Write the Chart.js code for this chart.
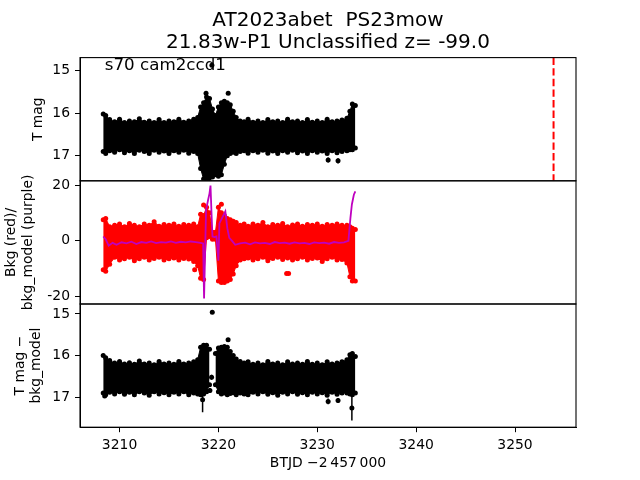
<!DOCTYPE html>
<html>
<head>
<meta charset="utf-8">
<title>AT2023abet light curve</title>
<script src="https://cdn.jsdelivr.net/npm/chart.js@4/dist/chart.umd.min.js"></script>
<style>
  body { margin: 0; background: #fff; }
  #wrap { position: relative; width: 640px; height: 480px; }
  #wrap canvas { position: absolute; left: 0; top: 0; }
</style>
</head>
<body>
<div id="wrap">
  <canvas id="c1" width="640" height="480"></canvas>
  <canvas id="c2" width="640" height="480"></canvas>
  <canvas id="c3" width="640" height="480"></canvas>
</div>
<script>
// time grid (BTJD - 2457000) used for the dense bands of all three panels
const tGrid = [3208.35, 3208.6, 3209.0, 3209.5, 3210.0, 3210.5, 3211.0, 3211.5, 3212.0, 3212.5,
  3213.0, 3213.5, 3214.0, 3214.5, 3215.0, 3215.5, 3216.0, 3216.5, 3217.0, 3217.5,
  3217.9, 3218.2, 3218.5, 3218.8, 3219.1, 3219.4, 3219.7, 3220.0, 3220.3, 3220.6,
  3220.9, 3221.2, 3221.5, 3221.8, 3222.2, 3222.6, 3223.0, 3223.5, 3224.0, 3224.5,
  3225.0, 3225.5, 3226.0, 3226.5, 3227.0, 3227.5, 3228.0, 3228.5, 3229.0, 3229.5,
  3230.0, 3230.5, 3231.0, 3231.5, 3232.0, 3232.5, 3233.0, 3233.3, 3233.55, 3233.85];

// top panel: T mag, bright and faint edge of the band
const hi1 = [16.02, 16.05, 16.15, 16.2, 16.14, 16.22, 16.18, 16.2, 16.13, 16.21,
  16.18, 16.22, 16.15, 16.22, 16.18, 16.2, 16.14, 16.21, 16.18, 16.14,
  16.1, 15.85, 15.75, 15.62, 15.65, 15.9, 16.05, 15.85, 15.75, 15.72,
  15.75, 15.8, 15.95, 16.1, 16.18, 16.2, 16.14, 16.21, 16.18, 16.22,
  16.15, 16.2, 16.18, 16.22, 16.14, 16.2, 16.18, 16.22, 16.15, 16.21,
  16.18, 16.22, 16.14, 16.2, 16.18, 16.16, 16.12, 15.95, 15.78, 15.82];
const lo1 = [16.9, 16.95, 16.88, 16.92, 16.86, 16.93, 16.88, 16.95, 16.87, 16.9,
  16.95, 16.87, 16.92, 16.89, 16.95, 16.88, 16.92, 16.87, 16.94, 16.9,
  16.95, 17.3, 17.55, 17.62, 17.6, 17.5, 17.45, 17.48, 17.45, 17.2,
  17.0, 16.95, 16.92, 16.95, 16.9, 16.88, 16.94, 16.88, 16.92, 16.87,
  16.94, 16.89, 16.95, 16.88, 16.92, 16.87, 16.93, 16.89, 16.95, 16.88,
  16.92, 16.89, 16.95, 16.88, 16.93, 16.9, 16.88, 16.86, 16.86, 16.82];
const out1T = [3219.34, 3220.99, 3218.75, 3231.1, 3232.1];
const out1Y = [14.87, 15.53, 15.53, 17.1, 17.12];
const out1E = [0.03, 0.04, 0.04, 0.06, 0.06];
const peakT = 3253.9;  // red dashed marker

// middle panel: background (red) band and bkg model (purple)
const hi2 = [7.5, 8.0, 5.0, 5.5, 6.0, 5.0, 6.2, 5.5, 5.0, 6.0,
  5.5, 6.8, 5.2, 5.8, 5.5, 6.0, 5.2, 5.8, 5.5, 6.0,
  5.0, 9.5, 9.0, 12.0, 10.0, 3.0, 3.0, 12.0, 10.0, 9.0,
  8.0, 7.5, 7.0, 6.5, 5.5, 6.0, 5.2, 6.0, 5.5, 6.5,
  5.0, 5.8, 5.5, 6.2, 5.0, 5.6, 6.0, 5.2, 5.8, 5.5,
  6.0, 5.2, 5.8, 5.5, 6.0, 5.5, 5.5, 5.0, 4.5, 4.0];
const lo2 = [-10.5, -11.0, -8.5, -6.0, -7.0, -6.5, -6.0, -7.2, -6.5, -6.0,
  -7.0, -6.4, -6.0, -7.0, -6.5, -6.2, -7.0, -6.4, -6.6, -7.5,
  -9.0, -13.5, -14.0, 1.0, 1.5, 0.5, 0.5, -14.5, -15.0, -15.0,
  -14.5, -14.0, -12.0, -9.0, -7.0, -6.5, -6.2, -7.0, -6.5, -6.0,
  -7.2, -6.4, -6.0, -6.8, -6.2, -7.0, -6.5, -6.0, -7.0, -6.4,
  -6.2, -7.5, -6.5, -6.0, -7.0, -6.8, -8.0, -13.0, -14.5, -14.5];
const out2T = [3226.9, 3227.1, 3220.3, 3218.5, 3217.6];
const out2Y = [-11.8, -11.8, 13.1, 12.8, -10.5];
const modelT = [3208.35, 3208.6, 3208.9, 3209.3, 3209.7, 3210.2, 3210.7, 3211.2, 3211.7, 3212.2,
  3212.7, 3213.2, 3213.7, 3214.2, 3214.7, 3215.2, 3215.7, 3216.2, 3216.7, 3217.2,
  3217.7, 3218.2, 3218.45, 3218.55, 3218.75, 3218.95, 3219.1, 3219.2, 3219.3, 3219.4,
  3219.6, 3219.8, 3219.9, 3220.0, 3220.1, 3220.35, 3220.7, 3220.9, 3221.1, 3221.4,
  3221.7, 3222.2, 3222.7, 3223.2, 3223.7, 3224.2, 3224.7, 3225.2, 3225.7, 3226.2,
  3226.7, 3227.2, 3227.7, 3228.2, 3228.7, 3229.2, 3229.7, 3230.2, 3230.7, 3231.2,
  3231.7, 3232.2, 3232.7, 3233.15, 3233.35, 3233.5, 3233.7, 3233.85];
const modelY = [1.5, 0.5, -1.8, -0.8, -1.5, -0.6, -1.0, -0.4, -1.2, -0.5,
  -0.8, -0.3, -0.9, -0.5, -0.7, -0.3, -0.8, -0.4, -0.6, -0.3,
  -0.5, -0.8, -1.0, -20.8, 11.0, 14.5, 17.0, 19.8, 10.0, 1.5,
  1.3, 1.5, -3.0, -7.2, 6.2, 8.0, 10.5, 4.5, 1.0, -0.2,
  -1.5, -1.0, -0.7, -1.3, -0.6, -1.0, -0.8, -1.2, -0.5, -0.9,
  -0.7, -1.1, -0.6, -1.0, -0.8, -1.2, -0.6, -0.9, -0.7, -1.1,
  -0.5, -0.8, -0.6, -0.1, 8.0, 13.0, 16.5, 17.7];

// bottom panel: T mag - bkg_model
const hi3 = [16.0, 16.05, 16.12, 16.18, 16.14, 16.2, 16.17, 16.21, 16.13, 16.2,
  16.18, 16.22, 16.14, 16.2, 16.18, 16.21, 16.14, 16.2, 16.18, 16.15,
  16.1, 15.8, 15.75, 15.75, 15.85, null, 15.95, 15.82, 15.8, 15.78,
  15.8, 15.9, 16.0, 16.08, 16.14, 16.18, 16.15, 16.21, 16.18, 16.22,
  16.14, 16.2, 16.18, 16.22, 16.15, 16.2, 16.18, 16.21, 16.14, 16.21,
  16.18, 16.22, 16.15, 16.2, 16.18, 16.15, 16.1, 15.98, 15.95, 16.02];
const lo3 = [16.9, 16.94, 16.88, 16.92, 16.87, 16.93, 16.88, 16.94, 16.87, 16.9,
  16.95, 16.87, 16.92, 16.89, 16.94, 16.88, 16.92, 16.87, 16.94, 16.9,
  16.92, 16.94, 16.92, 16.87, 16.7, null, 16.7, 16.87, 16.92, 16.9,
  16.94, 16.91, 16.89, 16.94, 16.9, 16.92, 16.94, 16.88, 16.92, 16.87,
  16.93, 16.89, 16.95, 16.88, 16.92, 16.87, 16.93, 16.89, 16.94, 16.88,
  16.92, 16.89, 16.95, 16.88, 16.93, 16.9, 16.9, 16.92, 16.94, 16.9];
const out3T = [3219.38, 3220.98, 3219.31, 3219.14, 3218.4, 3231.1, 3232.1, 3233.5, 3208.5];
const out3Y = [14.96, 15.62, 16.52, 16.84, 17.06, 17.1, 17.08, 17.26, 16.97];
const out3E = [0.02, 0.03, 0.06, 0.06, 0.3, 0.07, 0.06, 0.3, 0.05];

const xMin = 3206.0, xMax = 3256.17;
const y1Range = [14.69, 17.59];
const y2Range = [-22.77, 21.51];
const y3Range = [14.76, 17.72];
const titleLines = ['AT2023abet  PS23mow', '21.83w-P1 Unclassified z= -99.0'];

const FONT = 'DejaVu Sans';
const tickFont = { family: FONT, size: 13.9 };

const pts = (xs, ys) => xs.map((x, i) => ({ x: x, y: ys[i] }));

// box around each panel, like matplotlib spines
const framePlugin = {
  id: 'frame',
  afterDraw(chart) {
    const a = chart.chartArea, ctx = chart.ctx;
    ctx.save();
    ctx.strokeStyle = '#000';
    ctx.lineWidth = 1.1;
    ctx.strokeRect(a.left, a.top, a.right - a.left, a.bottom - a.top);
    ctx.restore();
  }
};

// vertical error bars for datasets carrying an errs array
const errorBars = {
  id: 'errorBars',
  beforeDatasetsDraw(chart) {
    const { ctx, chartArea: a } = chart;
    const x = chart.scales.x, y = chart.scales.y;
    ctx.save();
    ctx.beginPath();
    ctx.rect(a.left, a.top, a.right - a.left, a.bottom - a.top);
    ctx.clip();
    chart.data.datasets.forEach(ds => {
      if (!ds.errs) return;
      ctx.strokeStyle = ds.borderColor;
      ctx.lineWidth = 1.5;
      ds.data.forEach((p, i) => {
        const px = x.getPixelForValue(p.x);
        ctx.beginPath();
        ctx.moveTo(px, y.getPixelForValue(p.y - ds.errs[i]));
        ctx.lineTo(px, y.getPixelForValue(p.y + ds.errs[i]));
        ctx.stroke();
      });
    });
    ctx.restore();
  }
};

// title over the axes and the sector label inside the top panel
const textPlugin = {
  id: 'texts',
  afterDraw(chart) {
    const ctx = chart.ctx, a = chart.chartArea;
    ctx.save();
    ctx.fillStyle = '#000';
    ctx.font = '20px "' + FONT + '"';
    ctx.textAlign = 'center';
    ctx.textBaseline = 'middle';
    const cx = (a.left + a.right) / 2;
    ctx.fillText(titleLines[0], cx, 20.7);
    ctx.fillText(titleLines[1], cx, 42.7);
    ctx.font = '16.7px "' + FONT + '"';
    ctx.textAlign = 'left';
    ctx.textBaseline = 'alphabetic';
    ctx.fillText('s70 cam2ccd1', a.left + 0.05 * (a.right - a.left), 69.5);
    ctx.restore();
  }
};

function bandSets(hi, lo, color) {
  const common = {
    type: 'line', borderColor: color, backgroundColor: color, borderWidth: 1,
    pointRadius: 2.5, pointBorderWidth: 0, pointBackgroundColor: color,
    spanGaps: false, order: 2
  };
  return [
    Object.assign({}, common, { data: pts(tGrid, hi), fill: '+1' }),
    Object.assign({}, common, { data: pts(tGrid, lo), fill: false })
  ];
}

function outlierSet(xs, ys, errs, color) {
  return {
    type: 'scatter', data: pts(xs, ys), errs: errs, borderColor: color,
    backgroundColor: color, pointRadius: 2.5, pointBorderWidth: 0, order: 1
  };
}

function yScale(range, reverse, step, title, titlePad) {
  return {
    type: 'linear', min: range[0], max: range[1], reverse: reverse,
    afterFit(s) { s.width = 80; },
    ticks: { stepSize: step, includeBounds: false, color: '#000', font: tickFont, padding: 5 },
    grid: { drawOnChartArea: false, color: '#000', tickLength: 5 },
    border: { color: '#000' },
    title: { display: true, text: title, color: '#000', font: tickFont, padding: { top: titlePad, bottom: 0 } }
  };
}

function panel(id, datasets, padding, y, xOpts, extra) {
  return new Chart(document.getElementById(id), {
    type: 'scatter',
    data: { datasets: datasets },
    options: {
      responsive: false, animation: false, devicePixelRatio: 1,
      layout: { padding: padding },
      plugins: {
        legend: { display: false },
        tooltip: { enabled: false },
        title: { display: false }
      },
      scales: { x: xOpts, y: y }
    },
    plugins: [framePlugin, errorBars].concat(extra || [])
  });
}

const hiddenX = { type: 'linear', min: xMin, max: xMax, display: false };

// panel 1: T mag
panel('c1',
  bandSets(hi1, lo1, '#000').concat([
    outlierSet(out1T, out1Y, out1E, '#000'),
    {
      type: 'line', data: [{ x: peakT, y: y1Range[0] }, { x: peakT, y: y1Range[1] }],
      borderColor: '#ff0000', borderWidth: 2, borderDash: [7.4, 3.2], pointRadius: 0, order: 0
    }
  ]),
  { left: 0, top: 57.6, right: 64, bottom: 480 - 180.8 },
  yScale(y1Range, true, 1, 'T mag', 29.7),
  hiddenX,
  [textPlugin]
);

// panel 2: background flux and its model
panel('c2',
  bandSets(hi2, lo2, '#ff0000').concat([
    outlierSet(out2T, out2Y, null, '#ff0000'),
    {
      type: 'line', data: pts(modelT, modelY), borderColor: '#bf00bf', borderWidth: 1.8,
      pointRadius: 0, order: -1
    }
  ]),
  { left: 0, top: 180.8, right: 64, bottom: 176 },
  yScale(y2Range, false, 20, ['Bkg (red)/', 'bkg_model (purple)'], 3.4),
  hiddenX
);

// panel 3: T mag - bkg_model, carries the time axis
panel('c3',
  bandSets(hi3, lo3, '#000').concat([outlierSet(out3T, out3Y, out3E, '#000')]),
  { left: 0, top: 304, right: 64, bottom: 0 },
  yScale(y3Range, true, 1, ['T mag \u2212', 'bkg_model'], 11.7),
  {
    type: 'linear', min: xMin, max: xMax,
    afterFit(s) { s.height = 52.8; },
    ticks: {
      stepSize: 10, includeBounds: false, color: '#000', font: tickFont, padding: 5,
      callback: v => String(v)
    },
    grid: { drawOnChartArea: false, color: '#000', tickLength: 5 },
    border: { color: '#000' },
    title: {
      display: true, text: 'BTJD \u22122\u2009457\u2009000', color: '#000', font: tickFont,
      padding: { top: 0, bottom: 8.6 }
    }
  }
);
</script>
</body>
</html>
